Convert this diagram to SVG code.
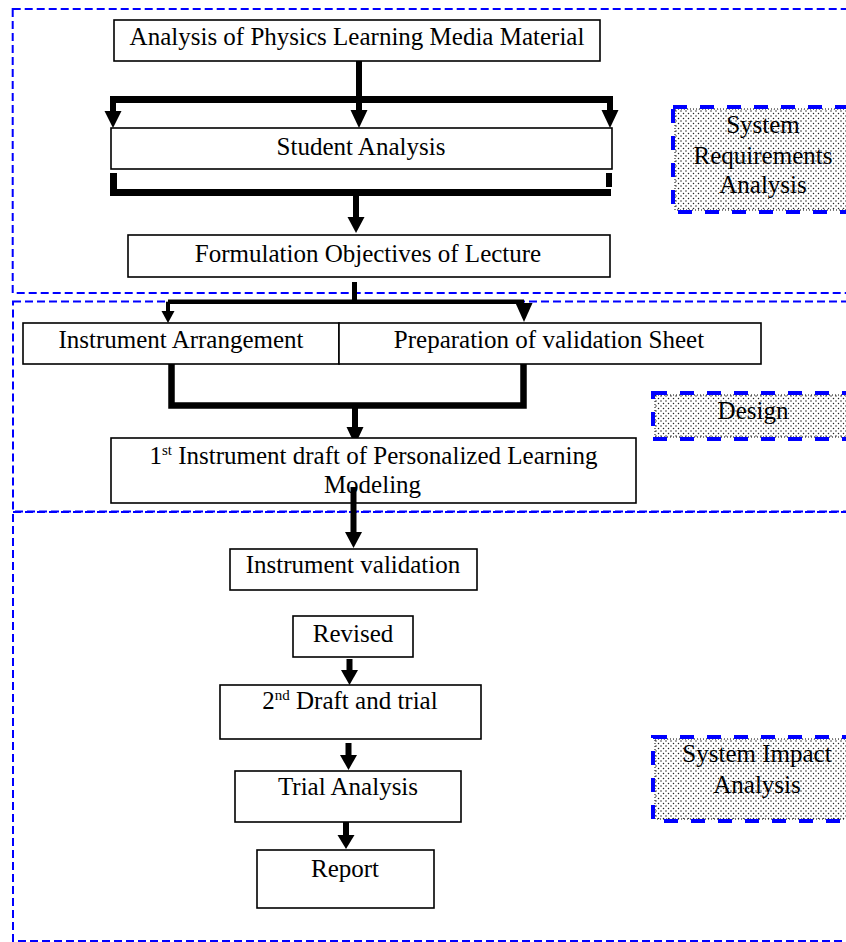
<svg xmlns="http://www.w3.org/2000/svg" width="846" height="942" viewBox="0 0 846 942">
<style>
  .sec { fill: none; stroke: #0000ff; stroke-width: 2; stroke-dasharray: 8 4; }
  .box { fill: #fff; stroke: #000; stroke-width: 1.6; }
  .t { font-family: "Liberation Serif", "Times New Roman", serif; font-size: 25px; fill: #000; text-anchor: middle; }
  .sup { font-size: 15px; }
  .conn { fill: none; stroke: #000; stroke-width: 6; stroke-linecap: butt; stroke-linejoin: miter; }
  .head { fill: #000; stroke: none; }
  .lbl { fill: url(#dots); stroke: #000; stroke-width: 1; stroke-dasharray: 1 2; }
  .lblb { fill: none; stroke: #0000ff; stroke-width: 4; stroke-dasharray: 14 13; }
</style>
<defs>
  <pattern id="dots" width="5" height="5" patternUnits="userSpaceOnUse">
    <rect width="5" height="5" fill="#fff"/>
    <circle cx="1" cy="1" r="0.75" fill="#222"/>
    <circle cx="3.5" cy="3.5" r="0.75" fill="#222"/>
  </pattern>
</defs>
<rect width="846" height="942" fill="#fff"/>

<g id="sections">
  <rect class="sec" x="12.7" y="9" width="860" height="284"/>
  <rect class="sec" x="13" y="301.5" width="860" height="210"/>
  <rect class="sec" x="13" y="512" width="860" height="429"/>
</g>

<g id="connectors">
  <path class="conn" d="M110 99.5 H613" style="stroke-width:7"/>
  <path class="conn" d="M359 61 V111"/>
  <path class="conn" d="M113 99.5 V112"/>
  <polygon class="head" points="104.5,111 121.5,111 113,128"/>
  <polygon class="head" points="350.5,110 367.5,110 359,128"/>
  <path class="conn" d="M610 99.5 V111"/>
  <polygon class="head" points="601.5,110 618.5,110 610,128"/>

  <path class="conn" d="M113.5 173 V192.5 H611" style="stroke-width:7"/>
  <path class="conn" d="M609 173 V187"/>
  <path class="conn" d="M356 192 V218"/>
  <polygon class="head" points="347.5,217 364.5,217 356,233"/>

  <path class="conn" d="M354.5 282 V302" style="stroke-width:5"/>
  <path class="conn" d="M168 301.7 H524" style="stroke-width:4.5"/>
  <path class="conn" d="M168 301.7 V312" style="stroke-width:4"/>
  <polygon class="head" points="161.5,311 174.5,311 168,323"/>
  <polygon class="head" points="515.5,303 532.5,303 524,322"/>

  <path class="conn" d="M171.5 364 V405.5 H523.5 V364" style="stroke-width:6.5"/>
  <path class="conn" d="M355 405 V428"/>
  <polygon class="head" points="346.5,427 363.5,427 355,445"/>

  <path class="conn" d="M353.5 487 V533"/>
  <polygon class="head" points="345,532 362,532 353.5,548"/>

  <path class="conn" d="M349.5 659 V671"/>
  <polygon class="head" points="341,670 358,670 349.5,685"/>

  <path class="conn" d="M348.5 743 V756"/>
  <polygon class="head" points="340,755 357,755 348.5,770"/>

  <path class="conn" d="M346 822 V836"/>
  <polygon class="head" points="337.5,835 354.5,835 346,849"/>
</g>

<g id="n-analysis-material">
  <rect class="box" x="114" y="20" width="486" height="41"/>
  <text class="t" x="357" y="45">Analysis of Physics Learning Media Material</text>
</g>
<g id="n-student-analysis">
  <rect class="box" x="111" y="128" width="501" height="41"/>
  <text class="t" x="361" y="155">Student Analysis</text>
</g>
<g id="n-formulation">
  <rect class="box" x="128" y="235" width="482" height="42"/>
  <text class="t" x="368" y="262">Formulation Objectives of Lecture</text>
</g>
<g id="n-instrument-arrangement">
  <rect class="box" x="23" y="323" width="316" height="41"/>
  <text class="t" x="181" y="348">Instrument Arrangement</text>
</g>
<g id="n-preparation">
  <rect class="box" x="339" y="323" width="422" height="41"/>
  <text class="t" x="549" y="348">Preparation of validation Sheet</text>
</g>
<g id="n-first-draft">
  <rect class="box" x="111" y="438" width="525" height="65"/>
  <path class="conn" d="M353.5 487 V503"/>
  <text class="t" x="373.5" y="464">1<tspan class="sup" dy="-9">st</tspan><tspan dy="9"> Instrument draft of Personalized Learning</tspan></text>
  <text class="t" x="372.5" y="493">Modeling</text>
</g>
<g id="n-instrument-validation">
  <rect class="box" x="230" y="549" width="247" height="41"/>
  <text class="t" x="353" y="573">Instrument validation</text>
</g>
<g id="n-revised">
  <rect class="box" x="293" y="616" width="120" height="41"/>
  <text class="t" x="353" y="642">Revised</text>
</g>
<g id="n-second-draft">
  <rect class="box" x="220" y="685" width="261" height="54"/>
  <text class="t" x="350" y="709">2<tspan class="sup" dy="-9">nd</tspan><tspan dy="9"> Draft and trial</tspan></text>
</g>
<g id="n-trial-analysis">
  <rect class="box" x="235" y="771" width="226" height="51"/>
  <text class="t" x="348" y="795">Trial Analysis</text>
</g>
<g id="n-report">
  <rect class="box" x="257" y="850" width="177" height="58"/>
  <text class="t" x="345" y="877">Report</text>
</g>

<g id="l-system-requirements">
  <rect class="lbl" x="675" y="109" width="200" height="101"/>
  <rect class="lblb" x="673" y="107" width="200" height="105"/>
  <text class="t" x="763" y="133">System</text>
  <text class="t" x="763" y="164">Requirements</text>
  <text class="t" x="763" y="193">Analysis</text>
</g>
<g id="l-design">
  <rect class="lbl" x="655" y="395" width="200" height="42"/>
  <rect class="lblb" x="653" y="393" width="200" height="46"/>
  <text class="t" x="753" y="419">Design</text>
</g>
<g id="l-system-impact">
  <rect class="lbl" x="655" y="739" width="200" height="80"/>
  <rect class="lblb" x="653" y="737" width="200" height="84"/>
  <text class="t" x="757" y="762">System Impact</text>
  <text class="t" x="757" y="793">Analysis</text>
</g>
</svg>
